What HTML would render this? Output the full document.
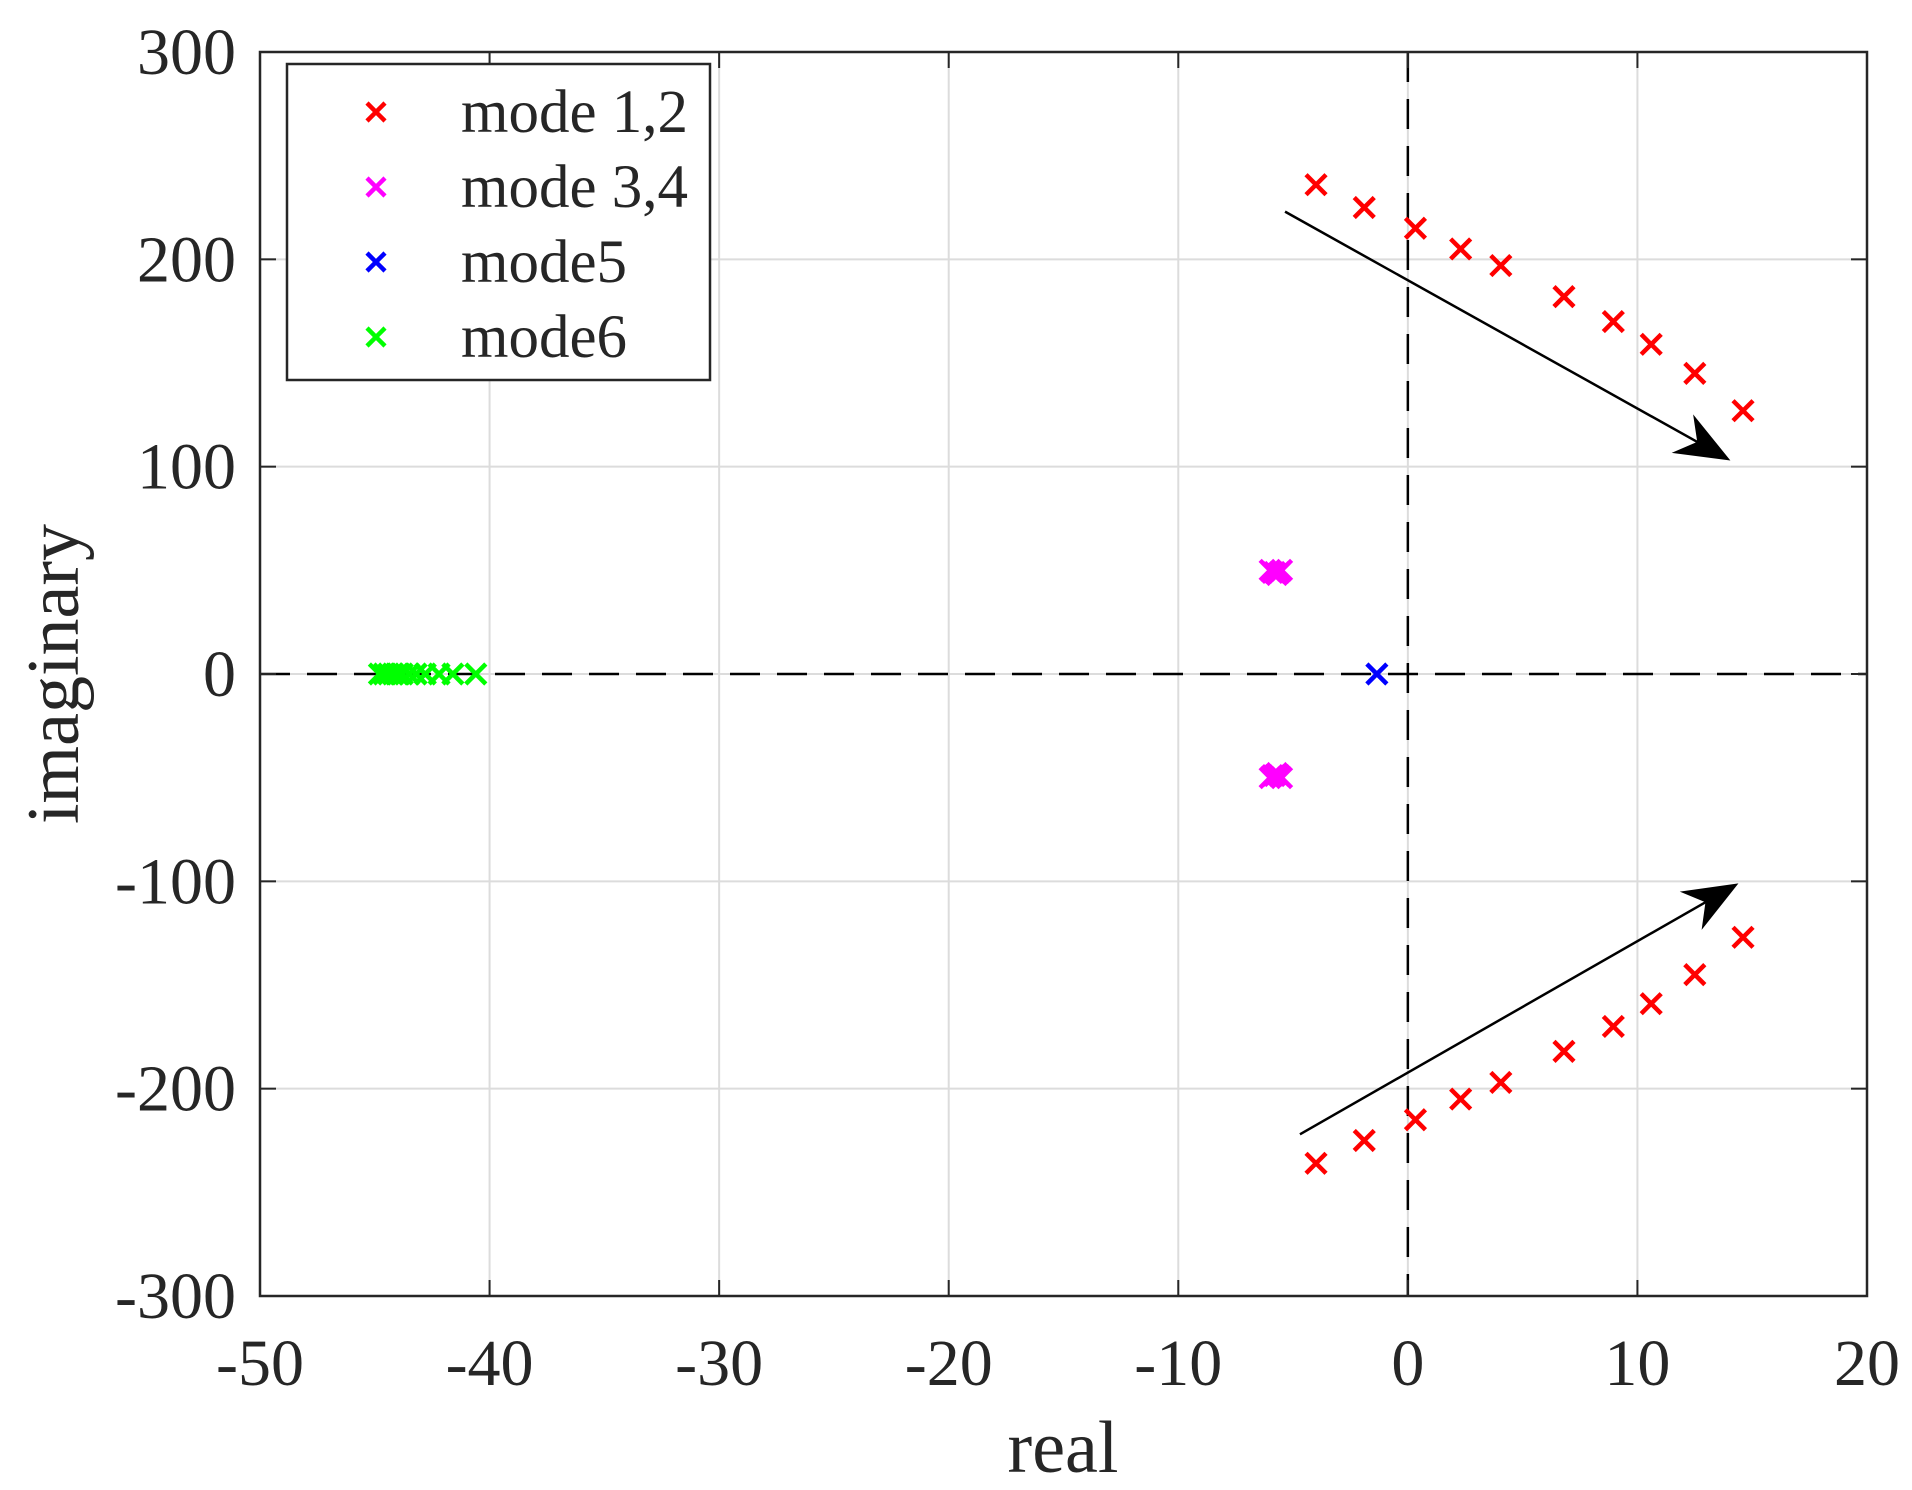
<!DOCTYPE html>
<html><head><meta charset="utf-8"><style>
html,body{margin:0;padding:0;background:#fff;}
svg{display:block;}
text{font-family:"Liberation Serif",serif;fill:#262626;}
</style></head><body>
<svg id="chart" width="1912" height="1490" viewBox="0 0 1912 1490" xmlns="http://www.w3.org/2000/svg">
<rect x="0" y="0" width="1912" height="1490" fill="#fff"/>
<g id="grid"></g>
<g id="zero"></g>
<g id="marks"></g>
<g id="axes"></g>
<g id="legend"></g>
</svg>
<script>
const xTicks=[-50,-40,-30,-20,-10,0,10,20];
const yTicks=[300,200,100,0,-100,-200,-300];
const m12x=[-4.0,-1.9,0.33,2.3,4.05,6.8,8.95,10.6,12.5,14.6];
const m12yUpper=[236,225,215,205,197,182,170,159,145,127];
const m12yLower=[-236,-225,-215,-205,-197,-182,-170,-159,-145,-127];
const m34x=[-6.0,-5.9,-5.8,-5.7,-5.6,-5.5];
const m34yUpper=[50,49,49,48,49,50];
const m34yLower=[-50,-49,-49,-48,-49,-50];
const m5x=[-1.35];
const m5y=[0];
const m6x=[-44.8,-44.6,-44.4,-44.2,-44.0,-43.8,-43.5,-43.2,-42.8,-42.2,-41.6,-40.6];
const m6y=[0,0,0,0,0,0,0,0,0,0,0,0];
const arrowUp=[-5.35,223,14.05,103];
const arrowDn=[-4.7,-222,14.4,-101];

const L=260,R=1867,T=52,B=1296;
const xs=v=>L+(v+50)/70*(R-L);
const ys=v=>T+(300-v)/600*(B-T);
const NS="http://www.w3.org/2000/svg";
function mk(parent,tag,attrs){const e=document.createElementNS(NS,tag);for(const k in attrs)e.setAttribute(k,attrs[k]);document.getElementById(parent).appendChild(e);return e;}

xTicks.forEach(t=>{
 const g=mk('grid','line',{x1:xs(t),x2:xs(t),y1:T,y2:B,stroke:'#dcdcdc','stroke-width':2});
 
 
 const a=mk('axes','line',{x1:xs(t),x2:xs(t),y1:B,y2:B-16,stroke:'#262626','stroke-width':2});
 
 
 const b=mk('axes','line',{x1:xs(t),x2:xs(t),y1:T,y2:T+16,stroke:'#262626','stroke-width':2});
 
 
 const lb=mk('axes','text',{x:xs(t),y:1385,'text-anchor':'middle','font-size':66});
 lb.textContent=t;
 
 
});
yTicks.forEach(t=>{
 const g=mk('grid','line',{x1:L,x2:R,y1:ys(t),y2:ys(t),stroke:'#dcdcdc','stroke-width':2});
 
 
 const a=mk('axes','line',{x1:L,x2:L+16,y1:ys(t),y2:ys(t),stroke:'#262626','stroke-width':2});
 
 
 const b=mk('axes','line',{x1:R,x2:R-16,y1:ys(t),y2:ys(t),stroke:'#262626','stroke-width':2});
 
 
 const lb=mk('axes','text',{x:236,y:ys(t)+22,'text-anchor':'end','font-size':66});
 lb.textContent=t;
 
 
});
const z1=mk('zero','line',{x1:L,x2:R,y1:ys(0),y2:ys(0),stroke:'#000','stroke-width':2.5,'stroke-dasharray':'30,17'});


const z2=mk('zero','line',{x1:xs(0),x2:xs(0),y1:T,y2:B,stroke:'#000','stroke-width':2.5,'stroke-dasharray':'30,17'});



function cross(px,py,color,s,name,parent){
 const d=`M${px-s},${py-s}L${px+s},${py+s}M${px-s},${py+s}L${px+s},${py-s}`;
 const p=mk(parent||'marks','path',{d:d,stroke:color,'stroke-width':4.5,fill:'none'});
 
 
}
function series(xa,ya,color,name){xa.forEach((v,i)=>cross(xs(v),ys(ya[i]),color,10,name));}
series(m6x,m6y,'#00ff00','mode6-point');
series(m34x,m34yUpper,'#ff00ff','mode34-point');
series(m34x,m34yLower,'#ff00ff','mode34-point');
series(m5x,m5y,'#0000ff','mode5-point');
series(m12x,m12yUpper,'#ff0000','mode12-point');
series(m12x,m12yLower,'#ff0000','mode12-point');

function arrow(a,name){
 const x1=xs(a[0]),y1=ys(a[1]),x2=xs(a[2]),y2=ys(a[3]);
 const ang=Math.atan2(y2-y1,x2-x1),len=55,w=22,back=38;
 const ln=mk('marks','line',{x1:x1,y1:y1,x2:x2-Math.cos(ang)*20,y2:y2-Math.sin(ang)*20,stroke:'#000','stroke-width':2.5});
 
 
 const c=Math.cos(ang),s=Math.sin(ang);
 const bx=x2-c*len,by=y2-s*len;
 const p1=[bx-s*w,by+c*w],p2=[bx+s*w,by-c*w],pm=[x2-c*back,y2-s*back];
 const pg=mk('marks','polygon',{points:`${x2},${y2} ${p1[0]},${p1[1]} ${pm[0]},${pm[1]} ${p2[0]},${p2[1]}`,fill:'#000'});
 
 
}
arrow(arrowUp,'arrow-upper');
arrow(arrowDn,'arrow-lower');

const fr=mk('axes','rect',{x:L,y:T,width:R-L,height:B-T,fill:'none',stroke:'#262626','stroke-width':2.5});


const xl=mk('axes','text',{x:1063,y:1472,'text-anchor':'middle','font-size':74});
xl.textContent='real';


const yl=mk('axes','text',{x:0,y:0,'text-anchor':'middle','font-size':74,transform:'translate(78,674) rotate(-90)'});
yl.textContent='imaginary';



const legNames=['mode 1,2','mode 3,4','mode5','mode6'];
const legColors=['#ff0000','#ff00ff','#0000ff','#00ff00'];
const lb=mk('legend','rect',{x:287,y:64,width:423,height:316,fill:'#fff',stroke:'#262626','stroke-width':2.5});


legNames.forEach((n,i)=>{
 const y=112+i*75;
 cross(376,y,legColors[i],9,'legend-marker','legend');
 const t=mk('legend','text',{x:461,y:y+20,'font-size':61});
 t.textContent=n;
 
 
});
</script>
</body></html>
